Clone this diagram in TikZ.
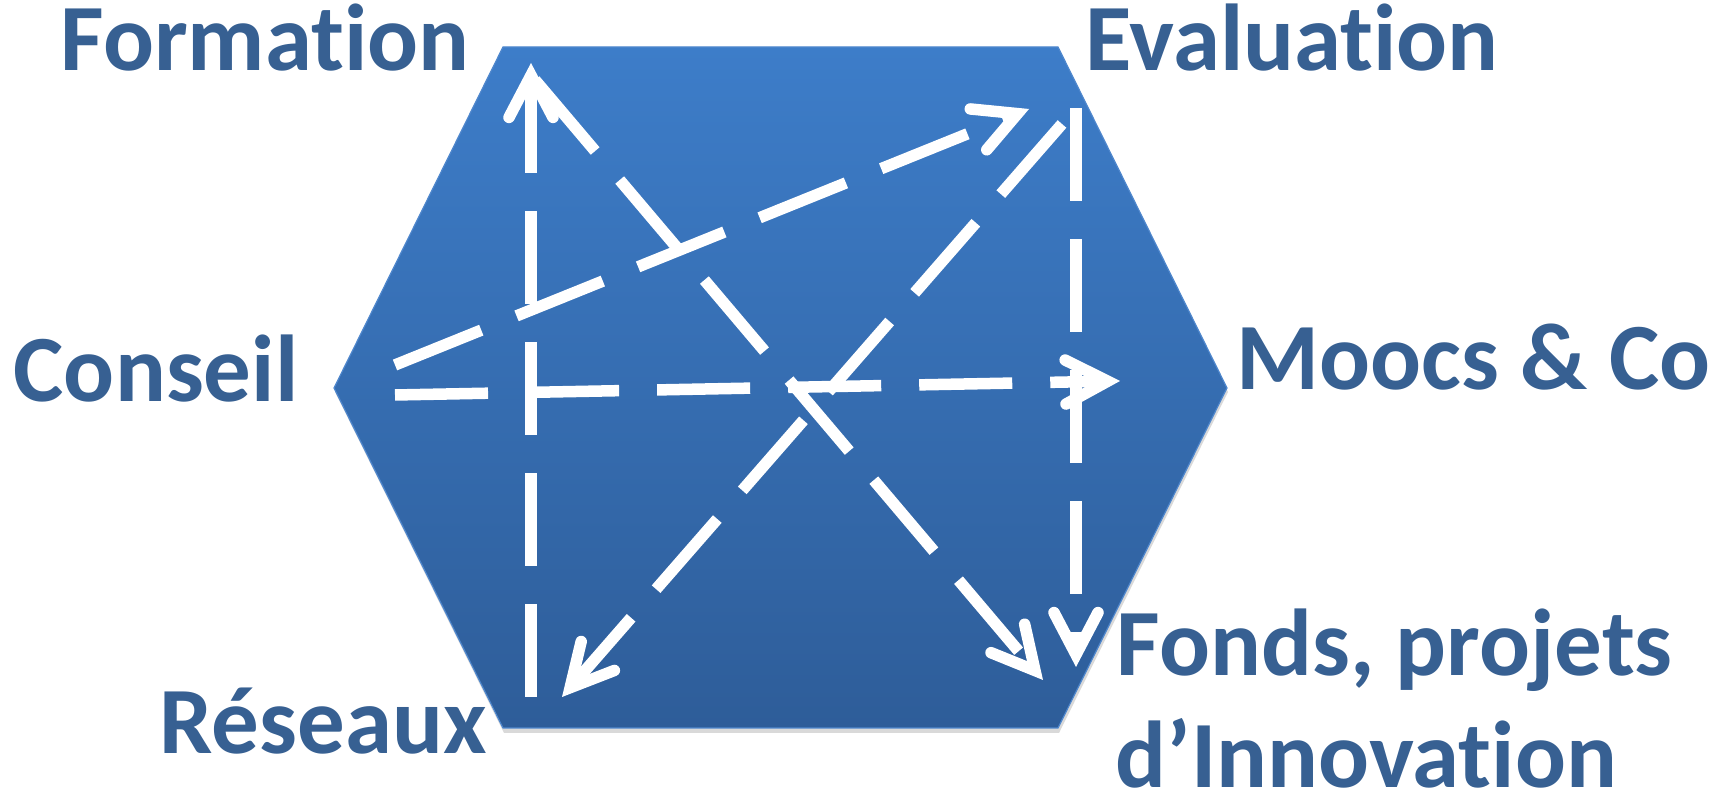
\documentclass[tikz,border=0pt]{standalone}
\usepackage{fontspec}
\setmainfont{Carlito}[Ligatures=NoCommon]
\usetikzlibrary{arrows.meta}
\definecolor{hexTop}{RGB}{61,125,201}
\definecolor{hexBottom}{RGB}{46,93,153}
\definecolor{hexEdge}{RGB}{79,135,205}
\definecolor{labelBlue}{RGB}{55,96,146}
\tikzset{
  flow/.style={draw=white, line width=0.115cm, dash pattern=on 0.93cm off 0.38cm,
    -{Straight Barb[length=0.42cm,width=0.44cm,line cap=round,line join=miter]}},
  corner/.style={font=\bfseries\fontsize{27}{33}\selectfont, text=labelBlue,
    inner sep=0pt, anchor=base west}
}
\begin{document}
\begin{tikzpicture}[x=0.01cm,y=-0.01cm]
\useasboundingbox (0,0) rectangle (1718,795);
% hexagon with a soft shadow
\fill[black!15] (504,51) -- (1059,51) -- (1228,392) -- (1059,733) -- (504,733) -- (335,392) -- cycle;
\shade[top color=hexTop, bottom color=hexBottom, draw=hexEdge, line width=0.012cm]
  (503,47) -- (1058,47) -- (1227,388) -- (1058,728) -- (503,728) -- (334,388) -- cycle;
% labels
\node[corner] (formation) at (60,71) {Formation};
\node[corner] (evaluation) at (1085,71) {Evaluation};
\node[corner] (conseil) at (13,402) {Conseil};
\node[corner] (moocs) at (1236,390) {Moocs \& Co};
\node[corner] (reseaux) at (159,754) {Réseaux};
\node[corner] (fonds) at (1116,676) {Fonds, projets};
\node[corner] (innov) at (1115,788) {d’Innovation};
% arrow ends
\coordinate (formBase) at (531,697);
\coordinate (formTip) at (531,63);
\coordinate (consH) at (395,395);
\coordinate (moocsTip) at (1120,381);
\coordinate (consD) at (395,365);
\coordinate (evalTip) at (1029,109);
\coordinate (evalD) at (1062,124);
\coordinate (resTip) at (562,697);
\coordinate (evalV) at (1076,108);
\coordinate (fondsTip) at (1076,667);
\coordinate (formD) at (535,80);
\coordinate (fondsTipB) at (1043,680);
% dashed links
\draw[flow] (formBase) -- (formTip);
\draw[flow] (consH) -- (moocsTip);
\draw[flow] (consD) -- (evalTip);
\draw[flow] (evalD) -- (resTip);
\draw[flow] (evalV) -- (fondsTip);
\draw[flow] (formD) -- (fondsTipB);
\end{tikzpicture}
\end{document}
